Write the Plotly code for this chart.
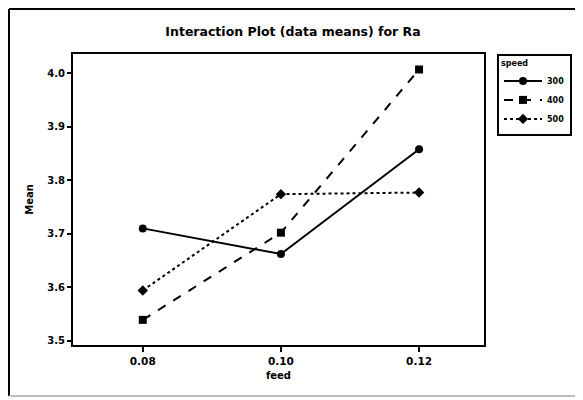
import plotly.graph_objects as go

feed = [0.08, 0.10, 0.12]
feed_labels = ["0.08", "0.10", "0.12"]
speeds = ["300", "400", "500"]
ra_300 = [3.710, 3.662, 3.858]
ra_400 = [3.539, 3.702, 4.007]
ra_500 = [3.594, 3.774, 3.777]
y_ticks = [3.5, 3.6, 3.7, 3.8, 3.9, 4.0]

series = [ra_300, ra_400, ra_500]
symbols = ["circle", "square", "diamond"]
dashes = ["solid", "dash", "dot"]
msizes = [8, 8, 8]

FONT = "DejaVu Sans"

# The page body has an 8px margin, so the figure is laid out 8px smaller
W, H = 575, 392
L, T, R, B = 65, 46, 99, 55
PW, PH = W - L - R, H - T - B

fig = go.Figure()
for name, vals, sym, dash, ms in zip(speeds, series, symbols, dashes, msizes):
    fig.add_trace(go.Scatter(
        x=feed, y=vals, mode="lines+markers", name="<b>%s</b>" % name,
        line=dict(color="black", width=2, dash=dash),
        marker=dict(symbol=sym, size=ms, color="black"),
    ))

fig.update_layout(
    width=W, height=H,
    margin=dict(l=L, r=R, t=T, b=B, autoexpand=False),
    paper_bgcolor="white", plot_bgcolor="white",
    font=dict(family=FONT, size=10, color="black"),
    title=dict(text="<b>Interaction Plot (data means) for Ra</b>",
               x=285 / W, xref="container", xanchor="center",
               y=1 - 24 / H, yanchor="middle",
               font=dict(size=12.5, family=FONT, color="black")),
    showlegend=True,
    legend=dict(
        title=dict(text="<b>speed</b>", font=dict(size=8)),
        x=(489 - L) / PW, xanchor="left", y=1.0, yanchor="top",
        bordercolor="black", borderwidth=2, bgcolor="white",
        font=dict(size=8, family=FONT),
        tracegroupgap=0, itemwidth=38,
    ),
    xaxis=dict(
        range=[0.0699, 0.1294], tickvals=feed, ticktext=["<b>%s</b>" % t for t in feed_labels],
        showgrid=False, zeroline=False, showline=True, linecolor="black", linewidth=2,
        mirror=True, ticks="outside", ticklen=5, tickwidth=2, tickcolor="black",
        tickfont=dict(size=10.5),
        title=dict(text="<b>feed</b>", standoff=6, font=dict(size=10)),
    ),
    yaxis=dict(
        range=[3.492, 4.036], tickvals=y_ticks,
        ticktext=["<b>%.1f</b>" % v for v in y_ticks],
        showgrid=False, zeroline=False, showline=True, linecolor="black", linewidth=2,
        mirror=True, ticks="outside", ticklen=4, tickwidth=2, tickcolor="black",
        tickfont=dict(size=10),
        title=dict(text="<b>Mean</b>", standoff=12, font=dict(size=10)),
    ),
)

# outer frame around the whole chart: black left/top, faint grey bottom
fx0 = (1 - L) / PW
fx1 = (W + 20 - L) / PW
fy_top = (T + PH - 1) / PH
fy_bot = (T + PH - (H - 4)) / PH
fig.add_shape(type="line", xref="paper", yref="paper", x0=fx0, x1=fx0, y0=fy_bot, y1=fy_top,
              line=dict(color="black", width=2), layer="below")
fig.add_shape(type="line", xref="paper", yref="paper", x0=fx0, x1=fx1, y0=fy_top, y1=fy_top,
              line=dict(color="black", width=2), layer="below")
fig.add_shape(type="line", xref="paper", yref="paper", x0=fx0, x1=fx1, y0=fy_bot, y1=fy_bot,
              line=dict(color="#bdbdbd", width=2), layer="below")

fig.write_html("out.html")
